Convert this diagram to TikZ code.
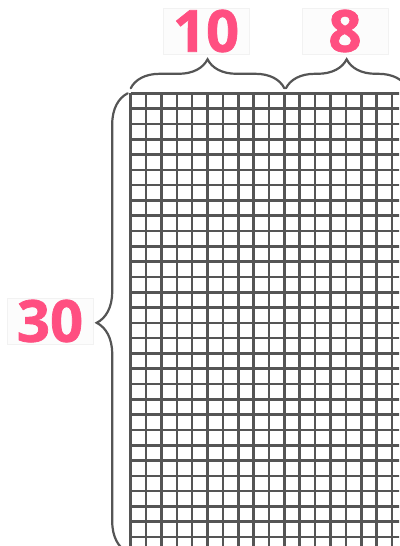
\documentclass[tikz,border=0pt]{standalone}
\usepackage{fontspec}
\setmainfont{Open Sans}
\newfontfamily\countfont[BoldFeatures={FakeBold=1.2}]{Open Sans}
\usetikzlibrary{decorations.pathreplacing}

\definecolor{countpink}{HTML}{FF4F81}
\definecolor{pengray}{HTML}{555555}

\tikzset{
    gridline/.style={pengray, line width=2.6pt},
    bracepen/.style={pengray, line width=2.2pt, line cap=round,
        decorate, decoration={brace, amplitude=#1}},
    countlabel/.style={text=countpink, font=\fontsize{58}{58}\countfont\bfseries,
        fill=black!1, draw=black!5, line width=0.8pt,
        minimum width=86pt, minimum height=46pt, inner sep=0pt},
}

\begin{document}
\begin{tikzpicture}[x=1pt, y=-1pt]
    \useasboundingbox (0,0) rectangle (399,546);

    % Grid corners
    \coordinate (gridTL) at (130.7,93.3);
    \coordinate (gridSplit) at (284.4,93.3);
    \coordinate (gridTR) at (407.4,93.3);
    \coordinate (gridBL) at (130.7,552.3);

    % Grid of 18 x 30 cells (cut by the page edge)
    \begin{scope}
        \clip (0,0) rectangle (399,546);
        \foreach \i in {0,...,18} {
            \draw[gridline] (130.7+\i*15.37, 93.3) -- ++(0,459);
        }
        \foreach \j in {0,...,30} {
            \draw[gridline] (130.7, 93.3+\j*15.3) -- ++(276.7,0);
        }
    \end{scope}

    % Braces over the columns
    \draw[bracepen=29pt] ([yshift=5pt]gridTL) -- ([yshift=5pt]gridSplit);
    \draw[bracepen=29pt] ([yshift=5pt, xshift=1.5pt]gridSplit) -- ([yshift=5pt]gridTR);

    % Brace beside the rows
    \draw[bracepen=31pt] ([xshift=-3pt]gridBL) -- ([xshift=-3pt]gridTL);

    % Counts
    \node[countlabel] (colsLeft) at (206,31) {10};
    \node[countlabel] (colsRight) at (345,31) {8};
    \node[countlabel] (rowsAll) at (50,321) {30};
\end{tikzpicture}
\end{document}
